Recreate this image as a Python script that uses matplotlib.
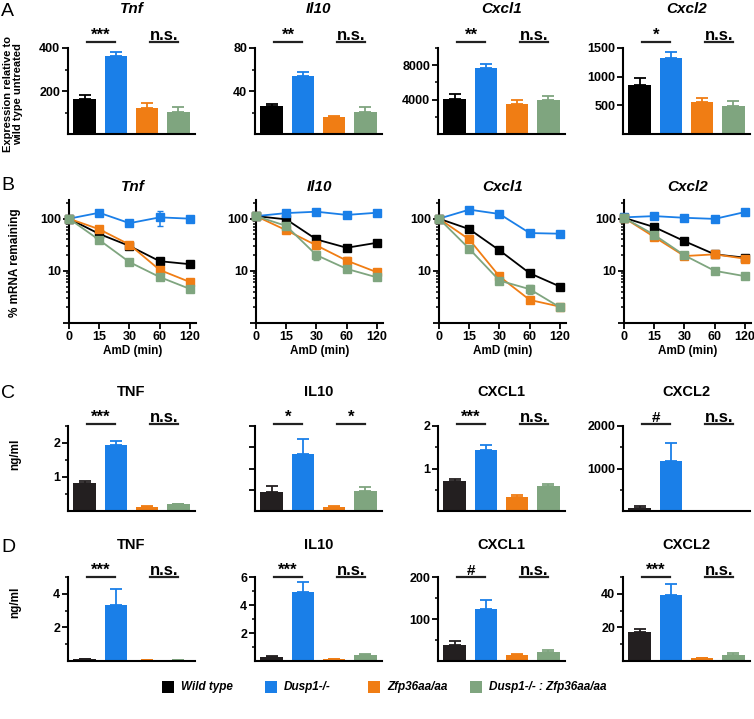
import matplotlib
matplotlib.use("Agg")
import matplotlib.pyplot as plt
import matplotlib.transforms as mtransforms
from matplotlib.patches import Rectangle
import numpy as np

plt.rcParams['font.family'] = ['Liberation Sans', 'DejaVu Sans']
plt.rcParams['font.weight'] = 'bold'

# ---------------- data ----------------
groups = ["Wild type", "Dusp1-/-", "Zfp36aa/aa", "Dusp1-/- : Zfp36aa/aa"]
colors = ["#000000", "#1a7fe8", "#f07d14", "#7fa57f"]
colors_cd = ["#231f20", "#1a7fe8", "#f07d14", "#7fa57f"]

# Panel A: expression relative to wild type untreated
A_genes = ["Tnf", "Il10", "Cxcl1", "Cxcl2"]
A_means = [[161, 363, 119, 104],
           [26, 53.7, 15.8, 20.5],
           [4070, 7685, 3450, 4000],
           [850, 1326, 555, 490]]
A_errs = [[20, 17, 24, 20],
          [2.2, 4.3, 0.7, 4.3],
          [580, 435, 550, 420],
          [128, 106, 70, 94]]
A_ylim = [400, 80, 10000, 1500]
A_major = [[200, 400], [40, 80], [4000, 8000], [500, 1000, 1500]]
A_minor = [[100, 300], [20, 60], [2000, 6000, 10000], []]
A_sig_left = ["***", "**", "**", "*"]
A_sig_right = ["n.s.", "n.s.", "n.s.", "n.s."]

# Panel B: % mRNA remaining after actinomycin D
B_genes = ["Tnf", "Il10", "Cxcl1", "Cxcl2"]
B_times = ["0", "15", "30", "60", "120"]
B_vals = [
    [[100, 51, 30, 15.3, 13.4],
     [100, 130, 82, 106, 100],
     [100, 62.7, 31.8, 10.4, 6.1],
     [100, 39, 14.7, 7.6, 4.5]],
    [[112, 97, 40, 27.7, 34.5],
     [112, 128, 136, 118, 130],
     [112, 60, 30.7, 15.7, 9.4],
     [112, 72.6, 20, 10.9, 7.5]],
    [[100, 63, 24.7, 9.0, 5.0],
     [100, 149, 123, 53, 51.5],
     [100, 40, 7.8, 2.77, 2.06],
     [100, 26.5, 6.5, 4.45, 2.0]],
    [[104, 69, 37, 20.7, 17.9],
     [106, 112, 104, 99, 134],
     [104, 44.6, 19.2, 20.7, 17.1],
     [104, 49, 19.8, 10, 7.9]],
]
B_errs = [
    [[0, 3, 2, 1.5, 1.2],
     [0, 10, 10, 35, 8],
     [0, 5, 4, 1.2, 0.6],
     [0, 3, 1.2, 0.6, 0.4]],
    [[0, 5, 3, 3, 5],
     [0, 8, 8, 8, 10],
     [0, 7, 4, 2.5, 0.8],
     [0, 6, 4, 1.2, 0.7]],
    [[0, 4, 2, 0.8, 0.5],
     [0, 10, 15, 5, 5],
     [0, 4, 0.8, 0.3, 0.2],
     [0, 2, 0.7, 0.8, 0.2]],
    [[0, 5, 3, 1.5, 1.2],
     [0, 8, 8, 8, 12],
     [0, 3, 1.5, 2, 1.5],
     [0, 4, 1.5, 0.8, 0.6]],
]

# Panel C: secreted protein (ng/ml)
C_genes = ["TNF", "IL10", "CXCL1", "CXCL2"]
C_means = [[0.81, 1.93, 0.13, 0.20],
           [0.91, 2.68, 0.20, 0.96],
           [0.71, 1.43, 0.34, 0.58],
           [70, 1167, 5, 5]]
C_errs = [[0.08, 0.13, 0.01, 0.01],
          [0.27, 0.69, 0.02, 0.18],
          [0.05, 0.12, 0.03, 0.05],
          [40, 433, 0, 0]]
C_ylim = [2.5, 4, 2, 2000]
C_major = [[1, 2], [1, 2, 3, 4], [1, 2], [1000, 2000]]
C_minor = [[0.5, 1.5, 2.5], [], [0.5, 1.5], [500, 1500]]
C_showlabels = [True, False, True, True]
C_sig_left = ["***", "*", "***", "#"]
C_sig_right = ["n.s.", "*", "n.s.", "n.s."]

# Panel D
D_genes = ["TNF", "IL10", "CXCL1", "CXCL2"]
D_means = [[0.12, 3.35, 0.05, 0.04],
           [0.31, 4.9, 0.12, 0.41],
           [38.8, 125, 14.3, 21.4],
           [17, 39, 1.6, 3.5]]
D_errs = [[0.02, 0.92, 0.01, 0.01],
          [0.03, 0.74, 0.02, 0.07],
          [10, 20, 1.5, 4.6],
          [2, 6.8, 0.3, 1.1]]
D_ylim = [5, 6, 200, 50]
D_major = [[2, 4], [2, 4, 6], [100, 200], [20, 40]]
D_minor = [[1, 3, 5], [1, 3, 5], [50, 150], [10, 30, 50]]
D_sig_left = ["***", "***", "#", "***"]
D_sig_right = ["n.s.", "n.s.", "n.s.", "n.s."]

# ---------------- layout ----------------
W, H = 754, 719
fig = plt.figure(figsize=(W / 100, H / 100), dpi=100)

col_left = [68, 255, 438, 623]
col_w = 127

def add_ax(l, t, r, b):
    return fig.add_axes([l / W, 1 - b / H, (r - l) / W, (b - t) / H])

def style(ax):
    for s in ["top", "right"]:
        ax.spines[s].set_visible(False)
    for s in ["left", "bottom"]:
        ax.spines[s].set_linewidth(1.5)
    ax.tick_params(axis='both', which='major', width=1.3, length=4,
                   labelsize=9, pad=1.5)
    ax.tick_params(axis='both', which='minor', width=1.1, length=2.5)
    for lab in ax.get_yticklabels() + ax.get_xticklabels():
        lab.set_fontweight('bold')

def fy(ypx):
    return 1 - ypx / H

def bar_panel(ax, means, errs, cols, ylim, major, minor, showlabels,
              sig_l, sig_r, line_px, title, title_px, italic):
    x = np.arange(4)
    ax.bar(x, means, width=0.72, color=cols, zorder=2)
    for i in range(4):
        ax.errorbar(x[i], means[i], yerr=[[0], [errs[i]]], fmt='none',
                    ecolor=cols[i], elinewidth=1.3, capsize=4.5,
                    capthick=1.3, zorder=1)
    ax.set_xlim(-0.53, 3.53)
    ax.set_ylim(0, ylim)
    ax.set_xticks([])
    ax.set_yticks(major)
    ax.set_yticks(minor, minor=True)
    if showlabels:
        ax.set_yticklabels([f"{m:g}" for m in major])
    else:
        ax.set_yticklabels([])
    style(ax)
    tr = mtransforms.blended_transform_factory(ax.transData, fig.transFigure)
    for (a, b), lab in [((0, 1), sig_l), ((2, 3), sig_r)]:
        x0, x1 = a + 0.08, b - 0.02
        ax.plot([x0, x1], [fy(line_px)] * 2, color='#222222', lw=1.6,
                transform=tr, clip_on=False)
        fs = 12 if lab != "#" else 11
        ax.text((x0 + x1) / 2, fy(line_px - 2), lab, transform=tr,
                ha='center', va='baseline', fontsize=fs, fontweight='bold')
    ax.text(0.5, fy(title_px), title, transform=mtransforms.blended_transform_factory(ax.transAxes, fig.transFigure),
            ha='center', va='center', fontsize=11 if italic else 10.5,
            fontweight='bold', style='italic' if italic else 'normal')

# Panel A
for j in range(4):
    ax = add_ax(col_left[j], 48, col_left[j] + col_w, 134)
    bar_panel(ax, A_means[j], A_errs[j], colors, A_ylim[j], A_major[j],
              A_minor[j], True, A_sig_left[j], A_sig_right[j], 42,
              A_genes[j], 9, True)

# Panel B
for j in range(4):
    ax = add_ax(col_left[j] + 1, 200, col_left[j] + 1 + col_w, 323)
    xs = np.arange(len(B_times))
    for g in range(4):
        ax.errorbar(xs, B_vals[j][g], yerr=B_errs[j][g], fmt='-s',
                    color=colors[g], lw=1.3, markersize=5.5, capsize=2,
                    elinewidth=1.1, clip_on=False, zorder=3 + g)
    ax.set_yscale('log')
    ax.set_ylim(1, 228)
    ax.set_xlim(0, 4.2)
    ax.set_xticks(xs)
    ax.set_xticklabels(B_times)
    ax.set_yticks([1, 10, 100])
    ax.set_yticklabels(["", "10", "100"])
    ax.yaxis.set_minor_locator(matplotlib.ticker.LogLocator(base=10, subs=np.arange(2, 10)))
    ax.yaxis.set_minor_formatter(matplotlib.ticker.NullFormatter())
    style(ax)
    ax.set_xlabel("AmD (min)", fontsize=8.5, fontweight='bold', labelpad=2)
    ax.text(0.5, fy(187), B_genes[j],
            transform=mtransforms.blended_transform_factory(ax.transAxes, fig.transFigure),
            ha='center', va='center', fontsize=11, fontweight='bold', style='italic')

# Panel C
for j in range(4):
    ax = add_ax(col_left[j], 426, col_left[j] + col_w, 511)
    bar_panel(ax, C_means[j], C_errs[j], colors_cd, C_ylim[j], C_major[j],
              C_minor[j], C_showlabels[j], C_sig_left[j], C_sig_right[j], 424,
              C_genes[j], 392, False)

# Panel D
for j in range(4):
    ax = add_ax(col_left[j], 577, col_left[j] + col_w, 661)
    bar_panel(ax, D_means[j], D_errs[j], colors_cd, D_ylim[j], D_major[j],
              D_minor[j], True, D_sig_left[j], D_sig_right[j], 577,
              D_genes[j], 545, False)

# Panel letters
for lab, ypx in [("A", 11), ("B", 186), ("C", 394), ("D", 547)]:
    fig.text(1 / W, fy(ypx), lab, ha='left', va='center', fontsize=14,
             fontweight='normal')

# y labels
fig.text(13 / W, fy(94), "Expression relative to\nwild type untreated",
         rotation=90, ha='center', va='center', fontsize=8, fontweight='bold',
         linespacing=1.1)
fig.text(15 / W, fy(263), "% mRNA remaining", rotation=90, ha='center',
         va='center', fontsize=8.5, fontweight='bold')
fig.text(15 / W, fy(454), "ng/ml", rotation=90, ha='center', va='center',
         fontsize=8.5, fontweight='bold')
fig.text(15 / W, fy(602), "ng/ml", rotation=90, ha='center', va='center',
         fontsize=8.5, fontweight='bold')

# legend
leg_x = [162, 265, 368, 470]
for i in range(4):
    fig.patches.append(Rectangle((leg_x[i] / W, fy(693)), 12 / W, 12 / H,
                                 transform=fig.transFigure, facecolor=colors[i],
                                 edgecolor='none'))
    fig.text((leg_x[i] + 19) / W, fy(687), groups[i], ha='left', va='center',
             fontsize=8.5, fontweight='bold', style='italic')

fig.savefig("out.png", dpi=100)
